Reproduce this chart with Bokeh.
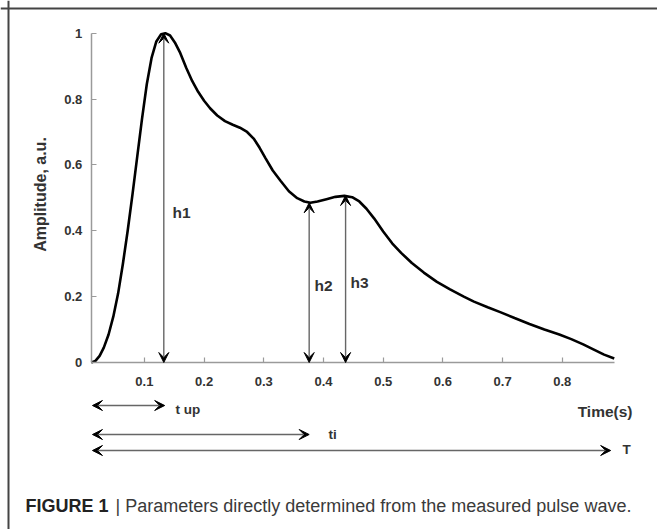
import math
from bokeh.plotting import figure
from bokeh.models import Range1d, FixedTicker, Arrow, VeeHead, Label, Span, ColumnDataSource
from bokeh.embed import file_html
from bokeh.resources import INLINE

# ---------------- data ----------------
time_s = [0.011, 0.018, 0.025, 0.032, 0.040, 0.048, 0.056, 0.064, 0.072, 0.080,
          0.088, 0.096, 0.104, 0.112, 0.120, 0.128, 0.135, 0.143, 0.151, 0.160,
          0.170, 0.180, 0.190, 0.200, 0.210, 0.222, 0.235, 0.248, 0.260, 0.272,
          0.283, 0.293, 0.303, 0.315, 0.328, 0.342, 0.356, 0.368, 0.378, 0.390,
          0.405, 0.420, 0.435, 0.448, 0.460, 0.472, 0.485, 0.500, 0.515, 0.530,
          0.548, 0.568, 0.590, 0.612, 0.635, 0.652, 0.675, 0.696, 0.720, 0.745,
          0.770, 0.795, 0.815, 0.835, 0.852, 0.870, 0.887]
amplitude = [0.000, 0.005, 0.020, 0.045, 0.085, 0.140, 0.210, 0.300, 0.400, 0.510,
             0.625, 0.740, 0.845, 0.925, 0.975, 0.997, 1.000, 0.993, 0.972, 0.940,
             0.895, 0.855, 0.822, 0.795, 0.772, 0.750, 0.733, 0.722, 0.713, 0.700,
             0.680, 0.652, 0.620, 0.583, 0.552, 0.520, 0.499, 0.489, 0.485, 0.489,
             0.496, 0.503, 0.506, 0.502, 0.489, 0.467, 0.437, 0.398, 0.362, 0.333,
             0.302, 0.273, 0.245, 0.222, 0.200, 0.185, 0.168, 0.153, 0.135, 0.117,
             0.100, 0.085, 0.071, 0.055, 0.040, 0.024, 0.012]

x_ticks = [0.1, 0.2, 0.3, 0.4, 0.5, 0.6, 0.7, 0.8]
y_ticks = [0, 0.2, 0.4, 0.6, 0.8, 1]
y_tick_overrides = {0: "0", 1: "1"}

height_names = ["h1", "h2", "h3"]
height_times = [0.1325, 0.376, 0.437]
height_values = [1.0, 0.485, 0.507]

interval_names = ["t up", "ti", "T"]
interval_start = 0.013
interval_ends = [0.134, 0.376, 0.881]

time_start, time_end = 0.011, 0.887

x_label = "Time(s)"
y_label = "Amplitude, a.u."
caption_bold = "FIGURE 1"
caption_text = "| Parameters directly determined from the measured pulse wave."

# ---------------- layout calibration (pixels) ----------------
W, H = 657, 529
X0PX, XSCALE = 84.2, 597.0     # pixel of t=0, pixels per second
Y0PX, YSCALE = 362.0, 329.3    # pixel of amplitude 0, pixels per unit


def sx(px):
    return (px - X0PX) / XSCALE


def sy(py):
    return (Y0PX - py) / YSCALE


p = figure(width=W, height=H, output_backend="svg", toolbar_location=None,
           x_range=Range1d(sx(0), sx(W)), y_range=Range1d(sy(H), sy(0)),
           min_border=0, min_border_left=0, min_border_right=0,
           min_border_top=0, min_border_bottom=0)
p.outline_line_color = None
p.grid.visible = False
p.background_fill_color = "white"
p.border_fill_color = "white"

FONT = "Liberation Sans"
AX_COLOR = "#9a9a9a"
TXT = "#333333"

# axes
p.xaxis.fixed_location = 0
p.yaxis.fixed_location = time_start
p.xaxis.bounds = (time_start, time_end)
p.yaxis.bounds = (0, 1)
p.xaxis.ticker = FixedTicker(ticks=x_ticks)
p.yaxis.ticker = FixedTicker(ticks=y_ticks)
p.yaxis.major_label_overrides = y_tick_overrides
for ax in (p.xaxis, p.yaxis):
    ax.axis_line_color = AX_COLOR
    ax.axis_line_width = 1.5
    ax.major_tick_line_color = AX_COLOR
    ax.major_tick_line_width = 1.2
    ax.major_tick_in = 5
    ax.major_tick_out = 0
    ax.minor_tick_line_color = None
    ax.major_label_text_font = FONT
    ax.major_label_text_font_style = "bold"
    ax.major_label_text_font_size = "13px"
    ax.major_label_text_color = TXT
p.xaxis.major_label_standoff = 14
p.yaxis.major_label_standoff = 9

# frame lines of the figure panel
p.add_layout(Span(location=sx(8), dimension="height", line_color="#444444", line_width=2))
p.add_layout(Span(location=sy(8), dimension="width", line_color="#444444", line_width=2))

# curve
p.line(time_s, amplitude, line_color="black", line_width=2.6)


def head():
    return VeeHead(size=10, fill_color="black", line_color="black", line_width=1)


# vertical height arrows
hsrc = ColumnDataSource(dict(x0=height_times, y0=[0] * 3, x1=height_times, y1=height_values))
p.add_layout(Arrow(x_start="x0", y_start="y0", x_end="x1", y_end="y1", source=hsrc,
                   start=head(), end=head(), line_color="#666666", line_width=1.4))
h_label_pos = [(172, 212), (314, 285), (350, 282)]
for name, (px, py) in zip(height_names, h_label_pos):
    p.add_layout(Label(x=sx(px), y=sy(py), text=name, text_font=FONT, text_font_style="bold",
                       text_font_size="15.5px", text_color=TXT, text_baseline="middle"))

# horizontal interval arrows
iy_px = [405, 434, 450]
isrc = ColumnDataSource(dict(x0=[interval_start] * 3, y0=[sy(v) for v in iy_px],
                             x1=interval_ends, y1=[sy(v) for v in iy_px]))
p.add_layout(Arrow(x_start="x0", y_start="y0", x_end="x1", y_end="y1", source=isrc,
                   start=head(), end=head(), line_color="#666666", line_width=1.4))
i_label_pos = [(175, 409), (328, 434), (622, 449)]
for name, (px, py) in zip(interval_names, i_label_pos):
    p.add_layout(Label(x=sx(px), y=sy(py), text=name, text_font=FONT, text_font_style="bold",
                       text_font_size="13.5px", text_color=TXT, text_baseline="middle"))

# axis titles
p.add_layout(Label(x=sx(632), y=sy(411), text=x_label, text_font=FONT, text_font_style="bold",
                   text_font_size="15.5px", text_color=TXT, text_align="right",
                   text_baseline="middle"))
p.add_layout(Label(x=sx(40), y=sy(194), text=y_label, text_font=FONT, text_font_style="bold",
                   text_font_size="16px", text_color=TXT, text_align="center",
                   text_baseline="middle", angle=math.pi / 2))

# caption
p.add_layout(Label(x=sx(25), y=sy(505), text=caption_bold, text_font=FONT,
                   text_font_style="bold", text_font_size="18px", text_color="#222222",
                   text_baseline="middle"))
p.add_layout(Label(x=sx(115), y=sy(505), text=caption_text, text_font=FONT,
                   text_font_size="18px", text_color="#3a3a3a", text_baseline="middle"))

open("out.html", "w").write(file_html(p, INLINE))
